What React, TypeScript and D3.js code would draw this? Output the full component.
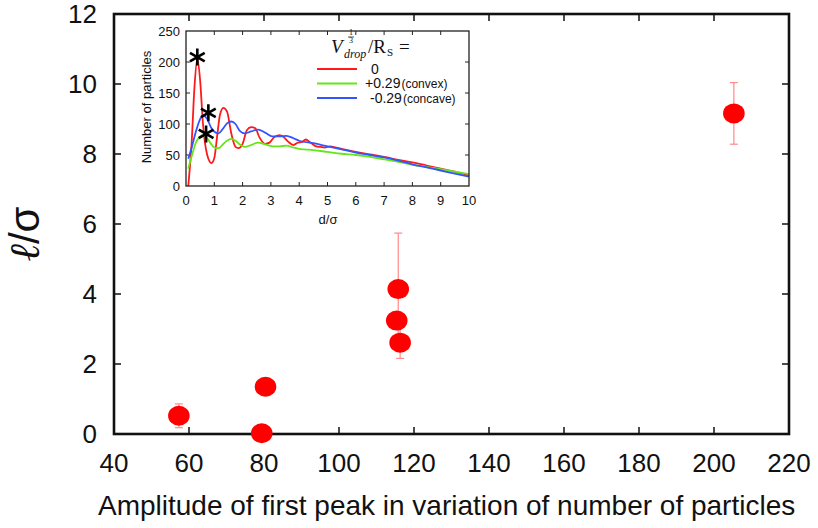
import * as d3 from 'd3';

// Main scatter: amplitude of first peak vs l/sigma
const amplitude = [57.3, 80.4, 79.4, 115.8, 115.4, 116.3, 205.3];
const ellSigma = [0.52, 1.35, 0.02, 4.14, 3.24, 2.61, 9.16];
const ellErr = [0.34, 0.15, 0.1, 1.6, 0.2, 0.45, 0.88];

const mainXTicks = [40, 60, 80, 100, 120, 140, 160, 180, 200, 220];
const mainYTicks = [0, 2, 4, 6, 8, 10, 12];

// Inset: number of particles vs d/sigma
const dFlat = [0.08, 0.2, 0.3, 0.4, 0.5, 0.6, 0.75, 0.9, 1.0, 1.1, 1.2, 1.32, 1.45, 1.6, 1.75, 1.85, 2.0, 2.15, 2.3, 2.45, 2.6, 2.8, 2.95, 3.1, 3.3, 3.45, 3.6, 3.8, 3.95, 4.1, 4.23, 4.4, 4.6, 4.75, 4.9, 5.1, 5.3, 5.5, 6.0, 6.5, 7.0, 7.5, 8.0, 8.5, 9.0, 9.5, 10];
const nFlat = [0, 70, 160, 205, 170, 100, 50, 37, 45, 80, 115, 126, 120, 85, 63, 61, 68, 90, 95, 93, 78, 68, 70, 78, 82, 79, 72, 66, 70, 71, 75, 70, 64, 63, 62, 64, 62, 60, 55, 51, 47, 42, 38, 33, 28, 23, 17];

const dCurved = [0.08, 0.2, 0.35, 0.5, 0.6, 0.75, 0.9, 1.05, 1.15, 1.3, 1.45, 1.6, 1.75, 1.9, 2.08, 2.3, 2.55, 2.8, 3.05, 3.3, 3.55, 3.8, 4.0, 4.5, 5.0, 5.5, 6.0, 6.5, 7.0, 7.5, 8.0, 8.5, 9.0, 9.5, 10];
const nConvex = [28, 48, 70, 80, 82, 77, 67, 61, 61, 67, 73, 76, 73, 67, 63, 66, 70, 67, 64, 64, 65, 62, 60, 58, 55, 52, 50, 47, 43, 39, 34, 31, 27, 23, 19];
const nConcave = [44, 62, 88, 108, 114, 108, 93, 86, 85, 92, 101, 104, 100, 89, 85, 88, 91, 86, 80, 80, 81, 77, 73, 69, 64, 59, 54, 50, 46, 41, 35, 30, 25, 20, 15];

// first-peak markers (asterisks)
const peakD = [0.4, 0.79, 0.71];
const peakN = [208, 118, 84];

const insetXTicks = [0, 1, 2, 3, 4, 5, 6, 7, 8, 9, 10];
const insetYTicks = [0, 50, 100, 150, 200, 250];

const legendLabels = ['0', '+0.29', '-0.29'];
const legendNotes = ['', '(convex)', '(concave)'];
const seriesColors = ['#ff1a1a', '#66e619', '#3355ff'];

const W = 818;
const H = 528;
const sans = 'Liberation Sans, Arial, Helvetica, sans-serif';
const serif = 'Liberation Serif, DejaVu Serif, Times New Roman, serif';

export default function App() {
  // main scales
  const x = d3.scaleLinear().domain([40, 220]).range([114, 789]);
  const y = d3.scaleLinear().domain([0, 12]).range([434, 14]);

  // inset scales
  const ix = d3.scaleLinear().domain([0, 10]).range([186, 469]);
  const iy = d3.scaleLinear().domain([0, 250]).range([186, 31]);

  const line = d3
    .line<[number, number]>()
    .x(d => ix(d[0]))
    .y(d => iy(d[1]))
    .curve(d3.curveMonotoneX);

  const series = [
    d3.zip(dFlat, nFlat) as [number, number][],
    d3.zip(dCurved, nConvex) as [number, number][],
    d3.zip(dCurved, nConcave) as [number, number][],
  ];

  const mainTick = 7;
  const insetTick = 4;

  const asterisk = (cx: number, cy: number, r: number) =>
    [90, 30, 150].map(a => {
      const t = (a * Math.PI) / 180;
      return `M${cx - r * Math.cos(t)},${cy - r * Math.sin(t)}L${cx + r * Math.cos(t)},${cy + r * Math.sin(t)}`;
    }).join('');

  return (
    <svg
      width={W}
      height={H}
      viewBox={`0 0 ${W} ${H}`}
      style={{ position: 'absolute', left: 0, top: 0, background: '#fff' }}
    >
      {/* main ticks, inward on all sides */}
      <g stroke="#111" strokeWidth={1.5}>
        {mainXTicks.slice(1, -1).map(t => (
          <g key={'mx' + t}>
            <line x1={x(t)} x2={x(t)} y1={y(0)} y2={y(0) - mainTick} />
            <line x1={x(t)} x2={x(t)} y1={y(12)} y2={y(12) + mainTick} />
          </g>
        ))}
        {mainYTicks.slice(1, -1).map(t => (
          <g key={'my' + t}>
            <line x1={x(40)} x2={x(40) + mainTick} y1={y(t)} y2={y(t)} />
            <line x1={x(220)} x2={x(220) - mainTick} y1={y(t)} y2={y(t)} />
          </g>
        ))}
      </g>
      <rect
        x={x(40)}
        y={y(12)}
        width={x(220) - x(40)}
        height={y(0) - y(12)}
        fill="none"
        stroke="#111"
        strokeWidth={2.6}
      />

      {/* main tick labels */}
      <g fontFamily={sans} fontSize={26} fill="#111">
        {mainXTicks.map(t => (
          <text key={'mxl' + t} x={x(t)} y={472} textAnchor="middle">
            {t}
          </text>
        ))}
        {mainYTicks.map(t => (
          <text key={'myl' + t} x={97} y={y(t) + 9} textAnchor="end">
            {t}
          </text>
        ))}
      </g>
      <text x={98} y={515} fontFamily={sans} fontSize={28} fill="#111">
        Amplitude of first peak in variation of number of particles
      </text>
      <text
        transform="translate(39,234) rotate(-90)"
        textAnchor="middle"
        fontSize={42}
        fill="#111"
      >
        <tspan fontFamily={serif} fontStyle="italic">ℓ</tspan>
        <tspan fontFamily={sans}>/σ</tspan>
      </text>

      {/* error bars and points */}
      <g stroke="#ff8a8a" strokeWidth={1.2}>
        {amplitude.map((a, i) => (
          <g key={'e' + i}>
            <line x1={x(a)} x2={x(a)} y1={y(ellSigma[i] - ellErr[i])} y2={y(ellSigma[i] + ellErr[i])} />
            <line x1={x(a) - 4} x2={x(a) + 4} y1={y(ellSigma[i] - ellErr[i])} y2={y(ellSigma[i] - ellErr[i])} />
            <line x1={x(a) - 4} x2={x(a) + 4} y1={y(ellSigma[i] + ellErr[i])} y2={y(ellSigma[i] + ellErr[i])} />
          </g>
        ))}
      </g>
      <g fill="#ff0000">
        {amplitude.map((a, i) => (
          <ellipse key={'p' + i} cx={x(a)} cy={y(ellSigma[i])} rx={10.8} ry={10} />
        ))}
      </g>

      {/* inset */}
      <g stroke="#222" strokeWidth={1}>
        {insetXTicks.slice(1, -1).map(t => (
          <g key={'ix' + t}>
            <line x1={ix(t)} x2={ix(t)} y1={iy(0)} y2={iy(0) - insetTick} />
            <line x1={ix(t)} x2={ix(t)} y1={iy(250)} y2={iy(250) + insetTick} />
          </g>
        ))}
        {insetYTicks.slice(1, -1).map(t => (
          <g key={'iy' + t}>
            <line x1={ix(0)} x2={ix(0) + insetTick} y1={iy(t)} y2={iy(t)} />
            <line x1={ix(10)} x2={ix(10) - insetTick} y1={iy(t)} y2={iy(t)} />
          </g>
        ))}
      </g>
      <g fontFamily={sans} fontSize={13} fill="#111">
        {insetXTicks.map(t => (
          <text key={'ixl' + t} x={ix(t)} y={205} textAnchor="middle">
            {t}
          </text>
        ))}
        {insetYTicks.map(t => (
          <text key={'iyl' + t} x={180} y={iy(t) + 4.5} textAnchor="end">
            {t}
          </text>
        ))}
        <text x={328} y={224} textAnchor="middle">
          d/σ
        </text>
        <text transform="translate(151,107) rotate(-90)" textAnchor="middle" fontSize={13}>
          Number of particles
        </text>
      </g>

      {series.map((s, i) => (
        <path key={'s' + i} d={line(s) ?? ''} fill="none" stroke={seriesColors[i]} strokeWidth={1.8} />
      ))}

      <g stroke="#000" strokeWidth={2.6}>
        {peakD.map((d, i) => (
          <path key={'a' + i} d={asterisk(ix(d), iy(peakN[i]), 8.5)} />
        ))}
      </g>

      <rect x={ix(0)} y={iy(250)} width={ix(10) - ix(0)} height={iy(0) - iy(250)} fill="none" stroke="#222" strokeWidth={1.3} />

      {/* legend */}
      <g fill="#111">
        <text x={331} y={53} fontFamily={serif} fontSize={19} fontStyle="italic">V</text>
        <text x={351} y={35} fontFamily={serif} fontSize={8} textAnchor="middle">1</text>
        <line x1={348} x2={354} y1={37} y2={37} stroke="#111" strokeWidth={0.7} />
        <text x={351} y={43} fontFamily={serif} fontSize={8} textAnchor="middle">3</text>
        <text x={344} y={58} fontFamily={serif} fontSize={12} fontStyle="italic">drop</text>
        <text x={368} y={53} fontFamily={serif} fontSize={19}>/R</text>
        <text x={387} y={56} fontFamily={serif} fontSize={11}>S</text>
        <text x={399} y={53} fontFamily={serif} fontSize={19}>=</text>
      </g>
      {legendLabels.map((l, i) => (
        <g key={'lg' + i}>
          <line x1={317} x2={357} y1={69 + i * 14.5} y2={69 + i * 14.5} stroke={seriesColors[i]} strokeWidth={2} />
          <text
            x={i === 0 ? 375 : i === 1 ? 365 : 370}
            y={73.5 + i * 14.5}
            fontFamily={sans}
            fontSize={14}
            textAnchor={i === 0 ? 'middle' : 'start'}
            fill="#111"
          >
            {l}
            {legendNotes[i] && (
              <tspan fontSize={12} dx={1}>
                {legendNotes[i]}
              </tspan>
            )}
          </text>
        </g>
      ))}
    </svg>
  );
}
